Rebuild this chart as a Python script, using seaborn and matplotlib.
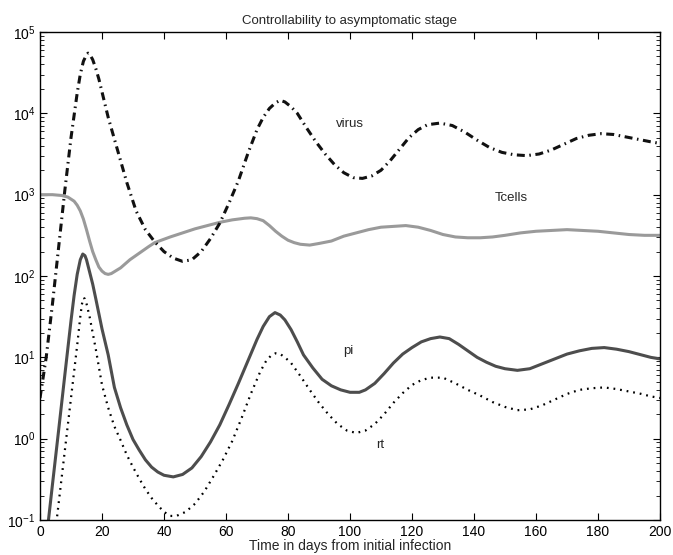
import numpy as np
import pandas as pd
import matplotlib
matplotlib.use("Agg")
import matplotlib.pyplot as plt
import seaborn as sns

# values, stored as log10
virus_day = [0, 2, 4, 6, 8, 10, 12, 13, 14, 15, 15.5, 16, 17, 18, 19, 22, 25, 28, 31, 34,
             37, 40, 43, 46, 49, 52, 55, 58, 61, 64, 67, 70, 72, 74, 76, 77.5, 79, 81, 83,
             86, 89, 92, 95, 98, 101, 104, 107, 110, 113, 116, 119, 122, 125, 129, 133, 137,
             141, 145, 149, 153, 157, 161, 165, 169, 173, 177, 181, 185, 189, 193, 197, 200]
virus_log = [0.5, 1.0, 1.65, 2.35, 3.05, 3.7, 4.25, 4.48, 4.64, 4.72, 4.74, 4.73, 4.66,
             4.55, 4.42, 3.95, 3.55, 3.15, 2.8, 2.57, 2.42, 2.3, 2.22, 2.18, 2.2, 2.3, 2.46,
             2.65, 2.9, 3.17, 3.5, 3.8, 3.95, 4.06, 4.13, 4.16, 4.14, 4.08, 4.0, 3.82, 3.65,
             3.5, 3.37, 3.27, 3.21, 3.2, 3.23, 3.3, 3.42, 3.56, 3.7, 3.8, 3.86, 3.88, 3.85,
             3.77, 3.67, 3.58, 3.52, 3.49, 3.48, 3.5, 3.55, 3.62, 3.69, 3.73, 3.75, 3.74,
             3.71, 3.68, 3.65, 3.63]

tcell_day = [0, 4, 7, 9, 11, 12, 13, 14, 15, 16, 17, 18, 19, 20, 21, 22, 23, 26, 29, 32,
             35, 37, 42, 46, 50, 54, 58, 62, 66, 68, 70, 72, 74, 76, 78, 80, 82, 84, 87, 90,
             94, 98, 102, 106, 110, 114, 118, 122, 126, 130, 134, 138, 142, 146, 150, 155,
             160, 165, 170, 175, 180, 185, 190, 195, 200]
tcell_log = [3.0, 3.0, 2.99, 2.97, 2.92, 2.87, 2.8, 2.7, 2.57, 2.43, 2.3, 2.2, 2.11, 2.06,
             2.03, 2.02, 2.03, 2.1, 2.2, 2.28, 2.36, 2.41, 2.48, 2.53, 2.58, 2.62, 2.66,
             2.69, 2.71, 2.715, 2.705, 2.68, 2.62, 2.55, 2.49, 2.44, 2.41, 2.39, 2.38, 2.4,
             2.43, 2.49, 2.53, 2.57, 2.6, 2.61, 2.62, 2.6, 2.56, 2.51, 2.48, 2.47, 2.47,
             2.48, 2.5, 2.53, 2.55, 2.56, 2.57, 2.56, 2.55, 2.53, 2.51, 2.5, 2.5]

pi_day = [0, 2, 4, 6, 8, 10, 11, 12, 13, 13.8, 14.5, 15, 16, 17, 18, 20, 22, 24, 26, 28,
          30, 32, 34, 36, 38, 40, 43, 46, 49, 52, 55, 58, 61, 64, 67, 70, 72, 74, 75.8,
          77.5, 79, 81, 83, 85, 88, 91, 94, 97, 100, 103, 105, 108, 111, 114, 117, 120,
          123, 126, 129, 132, 135, 138, 141, 144, 147, 150, 154, 158, 162, 166, 170, 174,
          178, 182, 186, 190, 194, 197, 200]
pi_log = [-1.9, -1.25, -0.57, 0.1, 0.78, 1.45, 1.76, 2.02, 2.2, 2.27, 2.25, 2.2, 2.05,
          1.9, 1.72, 1.35, 1.03, 0.63, 0.38, 0.17, -0.01, -0.14, -0.26, -0.35, -0.41, -0.45,
          -0.47, -0.44, -0.36, -0.22, -0.04, 0.17, 0.42, 0.68, 0.95, 1.22, 1.38, 1.5, 1.55,
          1.52, 1.46, 1.34, 1.19, 1.03, 0.87, 0.73, 0.65, 0.6, 0.57, 0.57, 0.6, 0.68, 0.8,
          0.93, 1.04, 1.12, 1.19, 1.23, 1.25, 1.23, 1.16, 1.08, 1.0, 0.94, 0.89, 0.86, 0.84,
          0.86, 0.92, 0.98, 1.04, 1.08, 1.11, 1.12, 1.1, 1.07, 1.03, 1.0, 0.98]

rt_day = [0, 2, 4, 6, 8, 10, 12, 13, 13.5, 14, 14.5, 15, 16, 17, 18, 20, 22, 24, 26, 28,
          30, 32, 34, 36, 38, 40, 42, 44, 47, 50, 53, 56, 59, 62, 65, 68, 71, 73, 74.5, 76,
          77.5, 79, 81, 84, 87, 90, 93, 96, 99, 102, 105, 108, 111, 114, 117, 120, 123, 126,
          130, 134, 138, 142, 146, 150, 154, 158, 162, 166, 170, 174, 178, 182, 186, 190,
          194, 197, 200]
rt_log = [-2.7, -2.1, -1.45, -0.8, -0.15, 0.5, 1.15, 1.5, 1.65, 1.73, 1.72, 1.66, 1.5,
          1.3, 1.1, 0.66, 0.38, 0.15, -0.02, -0.2, -0.35, -0.49, -0.62, -0.73, -0.82, -0.9,
          -0.95, -0.95, -0.9, -0.8, -0.65, -0.46, -0.26, -0.03, 0.25, 0.55, 0.82, 0.96,
          1.02, 1.05, 1.04, 1.0, 0.93, 0.77, 0.6, 0.44, 0.3, 0.18, 0.1, 0.07, 0.1, 0.18,
          0.3, 0.44, 0.56, 0.66, 0.72, 0.75, 0.75, 0.68, 0.6, 0.53, 0.45, 0.39, 0.35, 0.36,
          0.41, 0.48, 0.55, 0.6, 0.62, 0.63, 0.61, 0.58, 0.55, 0.52, 0.5]

labels = ["virus", "Tcells", "pi", "rt"]
label_pos = [(100, 7300), (152, 910), (99.4, 12), (109.7, 0.83)]


sns.set_style("ticks")
plt.rcParams['font.family'] = ['Liberation Sans', 'DejaVu Sans']

fig = plt.figure(figsize=(6.73, 5.55), dpi=100)
ax = fig.add_axes([40/673, 1 - 520/555, 620/673, 488/555])

df_v = pd.DataFrame({"day": virus_day, "val": 10 ** np.array(virus_log)})
df_t = pd.DataFrame({"day": tcell_day, "val": 10 ** np.array(tcell_log)})
df_p = pd.DataFrame({"day": pi_day, "val": 10 ** np.array(pi_log)})
df_r = pd.DataFrame({"day": rt_day, "val": 10 ** np.array(rt_log)})

sns.lineplot(data=df_t, x="day", y="val", ax=ax, color="#9a9a9a", lw=2.2, estimator=None)
sns.lineplot(data=df_p, x="day", y="val", ax=ax, color="#4d4d4d", lw=2.2, estimator=None)
sns.lineplot(data=df_r, x="day", y="val", ax=ax, color="black", lw=1.6,
             linestyle=(0, (0.8, 2.2)), estimator=None)
sns.lineplot(data=df_v, x="day", y="val", ax=ax, color="#111111", lw=2.2,
             linestyle=(0, (2.6, 1.5, 0.5, 1.5)), estimator=None)

ax.set_yscale("log")
ax.set_xlim(0, 200)
ax.set_ylim(1e-1, 1e5)
ax.set_xticks(range(0, 201, 20))
ax.tick_params(which="both", direction="in", top=True, right=True, labelsize=10,
               color="black", labelcolor="black")
ax.tick_params(which="major", length=5)
ax.tick_params(which="minor", length=3)
for sp in ax.spines.values():
    sp.set_linewidth(1.0)
    sp.set_color("black")

for lab, (x, y) in zip(labels, label_pos):
    ax.text(x, y, lab, ha="center", va="center", fontsize=9.5)

ax.set_title("Controllability to asymptomatic stage", fontsize=9.5, pad=6)
ax.set_xlabel("Time in days from initial infection", fontsize=10, labelpad=0)
ax.yaxis.label.set_visible(False)

fig.savefig("out.png", dpi=100)
